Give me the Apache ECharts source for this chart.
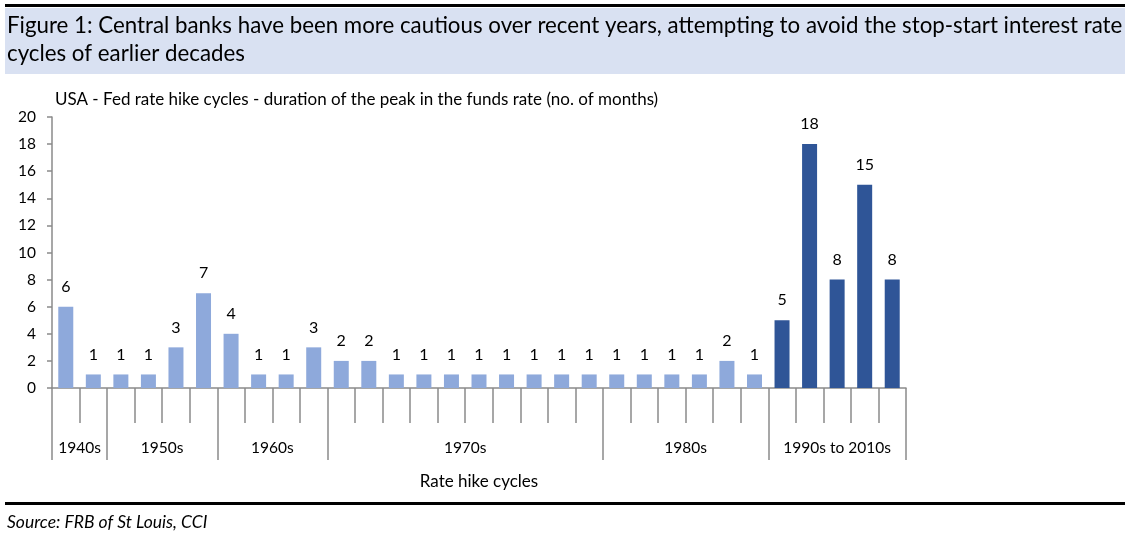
<!DOCTYPE html>
<html><head><meta charset="utf-8">
<script src="https://cdn.jsdelivr.net/npm/echarts@6/dist/echarts.min.js"></script>
<style>html,body{margin:0;padding:0;background:#fff}#c{width:1130px;height:534px}</style>
</head><body><div id="c"></div>
<script>
const titleText = 'Figure 1: Central banks have been more cautious over recent years, attempting to avoid the stop-start interest rate\ncycles of earlier decades';
const subtitleText = 'USA - Fed rate hike cycles - duration of the peak in the funds rate (no. of months)';
const sourceText = 'Source: FRB of St Louis, CCI';
const xAxisTitle = 'Rate hike cycles';
// 31 rate hike cycles
const cycles = Array.from({length: 31}, (_, i) => 'C' + (i + 1));
const months = [6,1,1,1,3,7,4,1,1,3,2,2,1,1,1,1,1,1,1,1,1,1,1,1,2,1,5,18,8,15,8];
// decade groups: name and number of cycles in each
const groupNames = ['1940s','1950s','1960s','1970s','1980s','1990s to 2010s'];
const groupSizes = [2,4,4,10,6,5];
const recentStart = 26; // cycles from index 26 on are 1990s-2010s
const yTicks = [0,2,4,6,8,10,12,14,16,18,20];

const FONT = 'Lato';
const lightC = '#8EA9DB', darkC = '#2F5597', axisC = '#8a8a8a';

const groupStarts = [];
const groupCentersHalf = {};
let acc = 0;
groupSizes.forEach((s, i) => { groupStarts.push(acc); groupCentersHalf[acc * 2 + s] = groupNames[i]; acc += s; });

const chart = echarts.init(document.getElementById('c'));
chart.setOption({
  animation: false,
  backgroundColor: '#fff',
  graphic: [
    {type: 'rect', shape: {x: 5, y: 8, width: 1120, height: 66}, style: {fill: '#D9E1F2'}, z: -1},
    {type: 'rect', shape: {x: 5, y: 4, width: 1120, height: 3}, style: {fill: '#000'}},
    {type: 'rect', shape: {x: 5, y: 502, width: 1120, height: 3}, style: {fill: '#000'}}
  ],
  title: [
    {text: titleText, left: 2, top: 7, textStyle: {fontFamily: FONT, fontSize: 22.3, fontWeight: 'normal', color: '#000', lineHeight: 28}},
    {text: subtitleText, left: 50, top: 86, textStyle: {fontFamily: FONT, fontSize: 17, fontWeight: 'normal', color: '#000'}},
    {text: sourceText, left: 2, top: 508, textStyle: {fontFamily: FONT, fontSize: 17.5, fontWeight: 'normal', fontStyle: 'italic', color: '#000'}}
  ],
  grid: {left: 52, right: 224, top: 117, bottom: 146, containLabel: false},
  xAxis: [
    {type: 'category', data: cycles, position: 'bottom',
     axisLine: {show: true, lineStyle: {color: axisC, width: 1.5}},
     axisTick: {show: true, interval: 0, length: 35, lineStyle: {color: axisC, width: 1.5}},
     axisLabel: {show: false}},
    {type: 'category', data: cycles, position: 'bottom',
     axisLine: {show: false},
     axisTick: {show: true, length: 72, interval: (i) => groupStarts.includes(i), lineStyle: {color: axisC, width: 1.5}},
     axisLabel: {show: false}},
    {type: 'category', data: cycles, position: 'bottom',
     axisLine: {show: false},
     axisTick: {show: true, inside: true, alignWithLabel: true, interval: 0, length: 3, lineStyle: {color: '#9aa6bd', width: 1}},
     axisLabel: {show: false}},
    {type: 'value', min: 0, max: 62, interval: 1, position: 'bottom',
     axisLine: {show: false}, axisTick: {show: false}, splitLine: {show: false},
     axisLabel: {show: true, margin: 52, fontFamily: FONT, fontSize: 15.5, color: '#000',
       formatter: (v) => groupCentersHalf[Math.round(v)] || ''},
     name: xAxisTitle, nameLocation: 'middle', nameGap: 85,
     nameTextStyle: {fontFamily: FONT, fontSize: 17, color: '#000'}}
  ],
  yAxis: {
    type: 'value', min: 0, max: 20, interval: 2,
    axisLine: {show: true, lineStyle: {color: axisC, width: 1.5}},
    axisTick: {show: true, length: 5, lineStyle: {color: axisC, width: 1.5}},
    splitLine: {show: false},
    axisLabel: {fontFamily: FONT, fontSize: 15.5, color: '#000', margin: 16,
      formatter: (v) => yTicks.includes(v) ? String(v) : ''}
  },
  series: [{
    type: 'bar', xAxisIndex: 0, barWidth: 15,
    data: months.map((v, i) => ({value: v, itemStyle: {color: i >= recentStart ? darkC : lightC}})),
    label: {show: true, position: 'top', distance: 12, fontFamily: FONT, fontSize: 16, color: '#000'},
    z: 1
  }]
});
</script></body></html>
